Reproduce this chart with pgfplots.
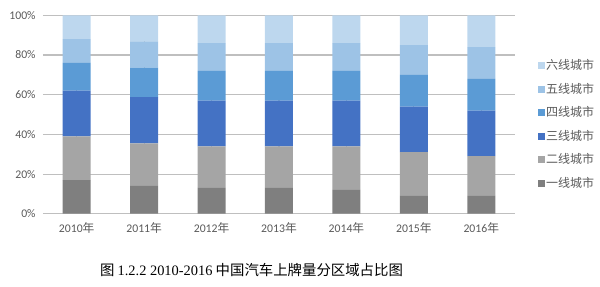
\documentclass[border=0pt]{standalone}
\usepackage{pgfplots}
\pgfplotsset{compat=1.18}
\usepackage{fontspec}
\setmainfont{Carlito}
\newfontfamily\cjk{Noto Sans CJK SC}
\newfontfamily\capfont{Liberation Serif}
\definecolor{c1}{HTML}{7F7F7F}
\definecolor{c2}{HTML}{A5A5A5}
\definecolor{c3}{HTML}{4472C4}
\definecolor{c4}{HTML}{5B9BD5}
\definecolor{c5}{HTML}{9DC3E6}
\definecolor{c6}{HTML}{BDD7EE}
\definecolor{txt}{HTML}{595959}
\definecolor{grid}{HTML}{D9D9D9}
\newcommand{\nian}{{\cjk 年}}
\begin{document}
\begin{tikzpicture}
\useasboundingbox (0,0) rectangle (450pt,214.5pt);
\begin{axis}[
  at={(32.25pt,54.2pt)}, anchor=south west,
  scale only axis, width=354pt, height=148.8pt,
  ybar stacked, bar width=21pt,
  xmin=-0.5, xmax=6.5, ymin=0, ymax=100,
  xtick=data,
  xticklabels={2010\nian,2011\nian,2012\nian,2013\nian,2014\nian,2015\nian,2016\nian},
  ytick={0,20,40,60,80,100},
  yticklabel={\pgfmathprintnumber{\tick}\%},
  /pgf/number format/assume math mode=true,
  tick style={draw=none},
  ymajorgrids, grid style={grid, line width=0.8pt},
  axis line style={draw=none},
  ticklabel style={font=\fontsize{8.8}{10}\selectfont, text=txt},
  xticklabel style={yshift=-3pt},
  yticklabel style={xshift=-2pt},
  reverse legend,
  legend style={draw=none, fill=none, at={(1.048,0.785)}, anchor=north west,
    font=\cjk\fontsize{9}{10}\selectfont, text=txt, row sep=6.5pt,
    inner sep=0pt, nodes={inner sep=1pt}},
  legend cell align=left,
  legend image code/.code={\fill[#1] (0pt,-2.6pt) rectangle (5.2pt,2.6pt);},
]
\addplot[fill=c1, draw=none] coordinates {(0,17) (1,14) (2,13) (3,13) (4,12) (5,9) (6,9)};
\addplot[fill=c2, draw=none] coordinates {(0,22) (1,21.5) (2,21) (3,21) (4,22) (5,22) (6,20)};
\addplot[fill=c3, draw=none] coordinates {(0,23) (1,23.3) (2,23) (3,23) (4,23) (5,23) (6,23)};
\addplot[fill=c4, draw=none] coordinates {(0,14) (1,14.8) (2,15) (3,15) (4,15) (5,16) (6,16)};
\addplot[fill=c5, draw=none] coordinates {(0,12) (1,13.3) (2,14) (3,14) (4,14) (5,15) (6,16)};
\addplot[fill=c6, draw=none] coordinates {(0,12) (1,13.1) (2,14) (3,14) (4,14) (5,15) (6,16)};
\legend{一线城市,二线城市,三线城市,四线城市,五线城市,六线城市}
\end{axis}
\node[font=\fontsize{10.8}{12}\selectfont] at (188.6pt,12pt) {{\cjk 图} {\capfont 1.2.2 2010-2016} {\cjk 中国汽车上牌量分区域占比图}};
\end{tikzpicture}
\end{document}
